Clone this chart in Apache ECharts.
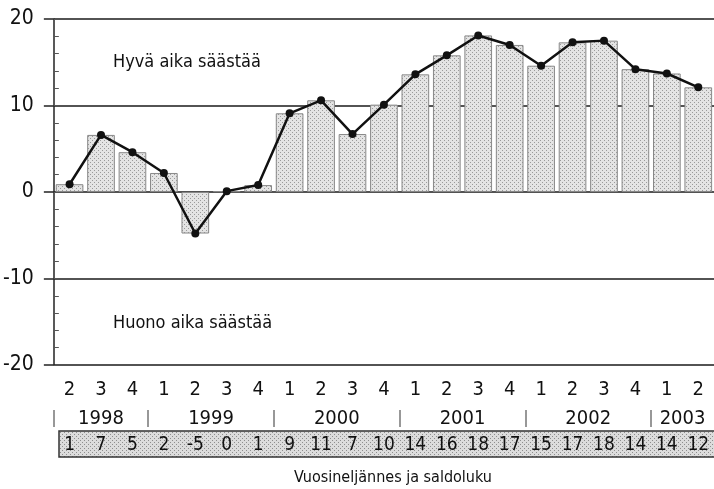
<!DOCTYPE html>
<html>
<head>
<meta charset="utf-8">
<script src="https://cdn.jsdelivr.net/npm/echarts@6/dist/echarts.min.js"></script>
<style>
  html, body { margin: 0; padding: 0; background: #fff; }
  #chart { width: 714px; height: 489px; }
</style>
</head>
<body>
<div id="chart"></div>
<script>
// Quarter / year of each observation (1998 Q2 – 2003 Q2)
const quarters = ['2','3','4','1','2','3','4','1','2','3','4','1','2','3','4','1','2','3','4','1','2'];
const quarterYears = ['1998','1998','1998','1999','1999','1999','1999','2000','2000','2000','2000',
                      '2001','2001','2001','2001','2002','2002','2002','2002','2003','2003'];
// Balance figure per quarter
const saldo = [0.9, 6.6, 4.6, 2.2, -4.8, 0.1, 0.8, 9.1, 10.6, 6.7, 10.1,
               13.6, 15.8, 18.1, 17.0, 14.6, 17.3, 17.5, 14.2, 13.7, 12.1];
// Rounded figures shown in the table row
const saldoRounded = [1, 7, 5, 2, -5, 0, 1, 9, 11, 7, 10, 14, 16, 18, 17, 15, 17, 18, 14, 14, 12];
const yTicks = [-20, -10, 0, 10, 20];

const FONT = "'Liberation Sans Narrow', 'DejaVu Sans Condensed', sans-serif";

// Dotted grey fill used for the bars and the table row
function stipple(base, dot) {
  const c = document.createElement('canvas');
  c.width = 4; c.height = 4;
  const g = c.getContext('2d');
  g.fillStyle = base; g.fillRect(0, 0, 4, 4);
  g.fillStyle = dot;
  g.fillRect(0, 0, 1, 1);
  g.fillRect(2, 2, 1, 1);
  return c;
}
const barFill = { image: stipple('#e4e4e4', '#9a9a9a'), repeat: 'repeat' };
const rowFill = { image: stipple('#dcdcdc', '#8e8e8e'), repeat: 'repeat' };

// Year spans on a continuous index scale (-0.5 .. n-0.5)
const years = [...new Set(quarterYears)];
const yearStart = years.map(y => quarterYears.indexOf(y));
const yearEnd = years.map(y => quarterYears.lastIndexOf(y));
const yearCenters = years.map((y, i) => (yearStart[i] + yearEnd[i]) / 2);
const yearBounds = yearStart.map(s => s - 0.5);

const chart = echarts.init(document.getElementById('chart'));
chart.setOption({
  animation: false,
  backgroundColor: '#fff',
  grid: { left: 53, right: -8, top: 19, bottom: 124 },
  xAxis: [
    {
      type: 'category',
      data: quarters,
      position: 'bottom',
      axisLine: { show: false, onZero: false },
      axisTick: { show: false },
      axisLabel: { color: '#111', fontFamily: FONT, fontSize: 20, margin: 15, interval: 0 }
    },
    {
      type: 'value',
      min: -0.5, max: quarters.length - 0.5,
      position: 'bottom',
      offset: 45,
      axisLine: { show: false, onZero: false },
      splitLine: { show: false },
      axisTick: { show: true, customValues: yearBounds, length: 17, lineStyle: { color: '#777', width: 1.5 } },
      axisLabel: {
        customValues: yearCenters,
        formatter: v => years[yearCenters.indexOf(v)] || '',
        color: '#111', fontFamily: FONT, fontSize: 20, margin: -1
      }
    },
    {
      type: 'category',
      data: saldoRounded.map(String),
      position: 'bottom',
      offset: 69,
      axisLine: { show: false, onZero: false },
      axisTick: { show: false },
      axisLabel: { color: '#111', fontFamily: FONT, fontSize: 19, margin: 2, interval: 0 }
    }
  ],
  yAxis: [
    {
      type: 'value',
      min: yTicks[0], max: yTicks[yTicks.length - 1], interval: 10,
      axisLine: { show: true, onZero: false, lineStyle: { color: '#222', width: 1.5 } },
      axisTick: { show: true, length: 10, lineStyle: { color: '#222', width: 1.5 } },
      splitLine: { show: true, lineStyle: { color: '#1a1a1a', width: 1.6 } },
      axisLabel: { color: '#111', fontFamily: FONT, fontSize: 21, margin: 20 }
    },
    {
      type: 'value',
      min: yTicks[0], max: yTicks[yTicks.length - 1], interval: 2,
      position: 'left',
      axisLine: { show: false, onZero: false },
      axisTick: { show: true, inside: true, length: 5, lineStyle: { color: '#555', width: 1 } },
      splitLine: { show: false },
      axisLabel: { show: false }
    }
  ],
  graphic: [
    {
      type: 'rect', z: -10,
      shape: { x: 59, y: 431, width: 680, height: 26 },
      style: { fill: rowFill, stroke: '#333', lineWidth: 1.5 }
    },
    {
      type: 'text', x: 113, y: 62,
      style: { text: 'Hyvä aika säästää', fill: '#111', font: '18px ' + FONT, textVerticalAlign: 'middle' }
    },
    {
      type: 'text', x: 113, y: 323,
      style: { text: 'Huono aika säästää', fill: '#111', font: '18px ' + FONT, textVerticalAlign: 'middle' }
    },
    {
      type: 'text', x: 393, y: 478,
      style: { text: 'Vuosineljännes ja saldoluku', fill: '#111', font: '16px ' + FONT, textAlign: 'center', textVerticalAlign: 'middle' }
    }
  ],
  series: [
    {
      type: 'bar',
      data: saldo,
      xAxisIndex: 0, yAxisIndex: 0,
      barCategoryGap: '12%',
      itemStyle: { color: barFill, borderColor: '#888', borderWidth: 1 },
      z: 2
    },
    {
      type: 'line',
      data: saldo,
      xAxisIndex: 0, yAxisIndex: 0,
      symbol: 'circle', symbolSize: 8,
      lineStyle: { color: '#111', width: 2.5 },
      itemStyle: { color: '#111' },
      z: 3
    }
  ]
});
</script>
</body>
</html>
